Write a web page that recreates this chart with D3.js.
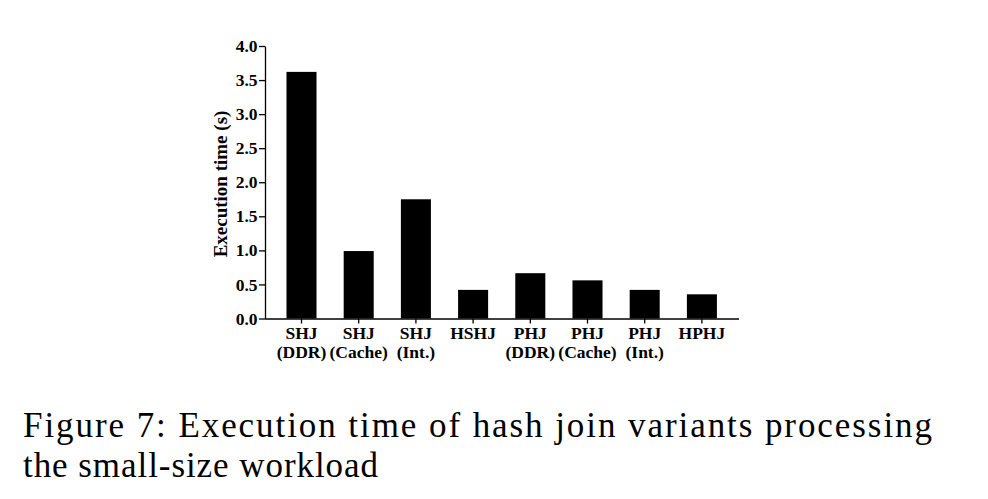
<!DOCTYPE html>
<html><head><meta charset="utf-8">
<script src="https://cdn.jsdelivr.net/npm/d3@7"></script>
<style>body{margin:0;background:#fff}svg{display:block}</style>
</head><body>
<svg id="c" width="988" height="499"></svg>
<script>
const categories = ["SHJ (DDR)", "SHJ (Cache)", "SHJ (Int.)", "HSHJ", "PHJ (DDR)", "PHJ (Cache)", "PHJ (Int.)", "HPHJ"];
const labelLine1 = ["SHJ", "SHJ", "SHJ", "HSHJ", "PHJ", "PHJ", "PHJ", "HPHJ"];
const labelLine2 = ["(DDR)", "(Cache)", "(Int.)", "", "(DDR)", "(Cache)", "(Int.)", ""];
const values = [3.62, 0.99, 1.75, 0.42, 0.665, 0.56, 0.42, 0.355];
const yTicks = [0, 0.5, 1.0, 1.5, 2.0, 2.5, 3.0, 3.5, 4.0];
const captionLines = ["Figure 7:  Execution time of hash join variants processing", "the small-size workload"];

const svg = d3.select("#c");
const x = d3.scaleBand().domain(categories).range([272.9, 730.5]).paddingInner(0.475).paddingOuter(0.2375);
const y = d3.scaleLinear().domain([0, 4]).range([318.5, 46]);
const font = "'Liberation Serif','Times New Roman',serif";

svg.append("g").selectAll("rect").data(values).join("rect")
  .attr("x", (d, i) => x(categories[i]))
  .attr("width", x.bandwidth())
  .attr("y", d => y(d))
  .attr("height", d => y(0) - y(d))
  .attr("fill", "#000");

// y axis
const ya = svg.append("g").attr("transform", "translate(265,0)")
  .call(d3.axisLeft(y).tickValues(yTicks).tickFormat(d3.format(".1f")).tickSize(6).tickPadding(1.5).tickSizeOuter(0));
ya.select(".domain").attr("stroke-width", 1.3);
ya.selectAll(".tick line").attr("stroke-width", 1.3);
ya.selectAll("text").attr("font-family", font).attr("font-weight", "bold").attr("font-size", 17.5).attr("fill", "#000");

// x axis
const xa = svg.append("g").attr("transform", `translate(0,${y(0)})`)
  .call(d3.axisBottom(x).tickSize(5).tickSizeOuter(0).tickFormat(""));
xa.select(".domain").attr("d", `M265,0.5H739`).attr("stroke-width", 1.3);
xa.selectAll(".tick line").attr("stroke-width", 1.3);
xa.selectAll(".tick").each(function(d, i) {
  const t = d3.select(this).append("text")
    .attr("font-family", font).attr("font-weight", "bold").attr("font-size", 17.5)
    .attr("fill", "#000").attr("text-anchor", "middle");
  t.append("tspan").attr("x", 0).attr("y", 20.5).text(labelLine1[i]);
  if (labelLine2[i]) t.append("tspan").attr("x", 0).attr("y", 39).text(labelLine2[i]);
});

// y label
svg.append("text").attr("transform", "translate(227,184) rotate(-90)")
  .attr("text-anchor", "middle").attr("font-family", font).attr("font-weight", "bold")
  .attr("font-size", 19).attr("fill", "#000").text("Execution time (s)");

// caption
const capW = [909, 355];
svg.selectAll(".cap").data(captionLines).join("text").attr("class", "cap")
  .attr("x", 23).attr("y", (d, i) => 437 + i * 39.5)
  .attr("font-family", font).attr("font-size", 35).attr("fill", "#000")
  .attr("textLength", (d, i) => capW[i]).attr("lengthAdjust", "spacing")
  .text(d => d);
</script>
</body></html>
